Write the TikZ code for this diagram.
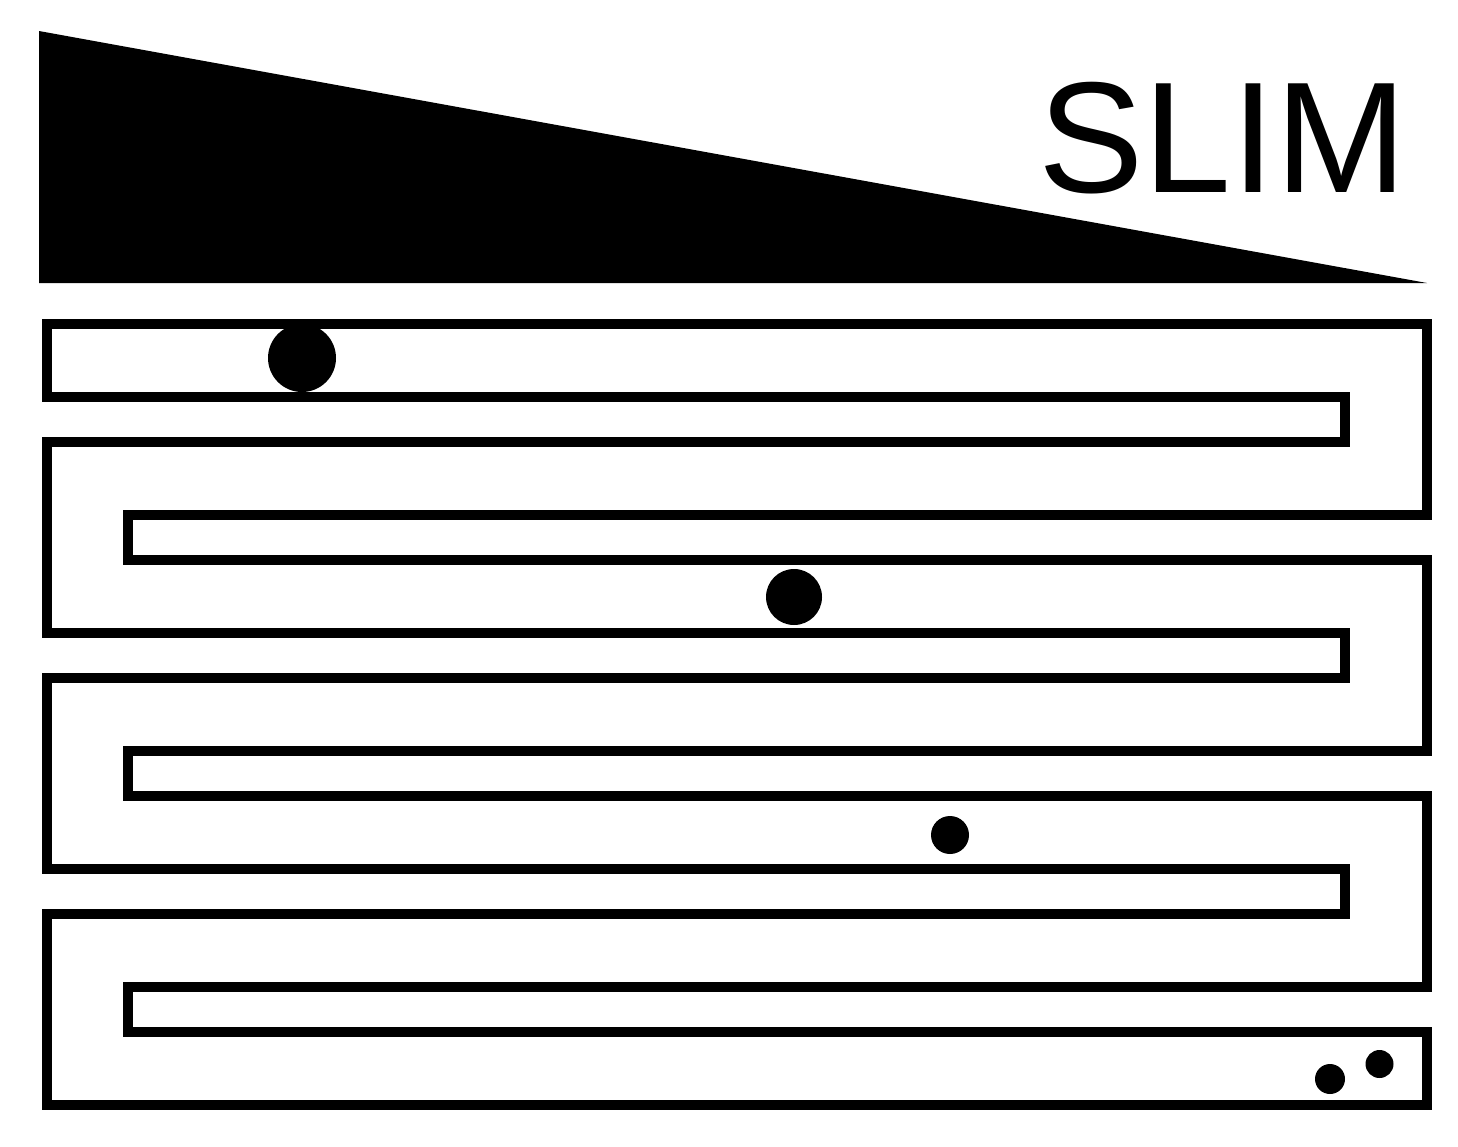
\documentclass[tikz,border=0pt]{standalone}
\usepackage{fontspec}
\setmainfont{Liberation Sans}
\usepackage{tikz}

\begin{document}
\begin{tikzpicture} [x=1pt,y=-1pt]
\useasboundingbox (0,0) rectangle (1458,1146);
\fill (39,31) -- (39,283) -- (1427,283) -- cycle;
\draw (1038,192) node (slim) [anchor=base west,inner sep=0pt] {\fontsize{158}{158}\selectfont SLIM};

\draw [line width=10pt] (47,324) -- (1427,324) -- (1427,515) -- (128,515) -- (128,560)
  -- (1427,560) -- (1427,751) -- (128,751) -- (128,796)
  -- (1427,796) -- (1427,987) -- (128,987) -- (128,1032)
  -- (1427,1032) -- (1427,1105) -- (47,1105) -- (47,914)
  -- (1345,914) -- (1345,869) -- (47,869) -- (47,678)
  -- (1345,678) -- (1345,633) -- (47,633) -- (47,442)
  -- (1345,442) -- (1345,397) -- (47,397) -- cycle;

\fill (302,358) circle (34);
\fill (794,597) circle (28);
\fill (950,835) circle (19);
\fill (1330,1079) circle (15);
\fill (1379.5,1064) circle (14);
\end{tikzpicture}
\end{document}
